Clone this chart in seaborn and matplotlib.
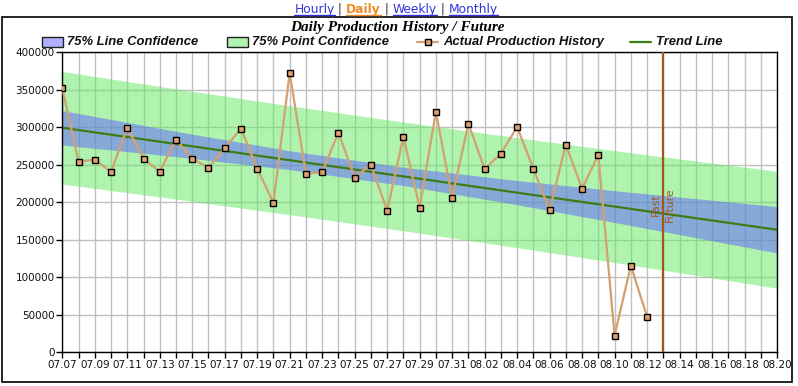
import numpy as np
import pandas as pd
import matplotlib
matplotlib.use("Agg")
import matplotlib.pyplot as plt
import seaborn as sns
from matplotlib.patches import Rectangle
from matplotlib.lines import Line2D
from matplotlib.ticker import MultipleLocator, FixedLocator, FuncFormatter

# ---------------- data ----------------
axis_days = pd.date_range("2023-07-07", "2023-08-20").strftime("%m.%d").tolist()

prod_dates = ["07.07", "07.08", "07.09", "07.10", "07.11", "07.12", "07.13", "07.14",
              "07.15", "07.16", "07.17", "07.18", "07.19", "07.20", "07.21", "07.22",
              "07.23", "07.24", "07.25", "07.26", "07.27", "07.28", "07.29", "07.30",
              "07.31", "08.01", "08.02", "08.03", "08.04", "08.05", "08.06", "08.07",
              "08.08", "08.09", "08.10", "08.11", "08.12"]
production = [352700, 254200, 256800, 240800, 299500, 258200, 240800, 283500,
              258200, 246200, 272400, 298200, 244800, 199500, 372400, 237800,
              240500, 292900, 232900, 250200, 188900, 287500, 192900, 320800,
              206200, 304900, 244500, 264800, 300500, 244500, 189300, 276800,
              218200, 263500, 22200, 115500, 47500]

trend_dates = ["07.07", "08.20"]
trend_values = [299400, 163400]

band_dates = ["07.07", "07.14", "07.21", "07.28", "08.04", "08.11", "08.20"]
line_conf_upper = [322400, 294600, 268700, 246700, 229000, 213300, 194300]
line_conf_lower = [276400, 260900, 243600, 222300, 196800, 169100, 132500]
point_conf_upper = [374500, 351200, 328700, 307000, 286100, 266100, 241300]
point_conf_lower = [224300, 204300, 183500, 162000, 139600, 116400, 85500]

divider_date = "08.13"
y_ticks = [0, 50000, 100000, 150000, 200000, 250000, 300000, 350000, 400000]

title = "Daily Production History / Future"
legend_labels = ["75% Line Confidence", "75% Point Confidence",
                 "Actual Production History", "Trend Line"]
nav_links = ["Hourly", "Daily", "Weekly", "Monthly"]

# ---------------- style ----------------
W, H = 798, 386
sns.set_theme(style="white")
plt.rcParams["font.family"] = ["DejaVu Sans"]

GREEN_FILL = "#61e961"
BLUE_FILL = "#6060ff"
TAN = "#d4a070"
MARK = "#dfa070"
TREND = "#3c7d14"
BROWN = "#a2561c"
GRID = "#c0c0c0"

pos = {d: i for i, d in enumerate(axis_days)}

fig = plt.figure(figsize=(W / 100, H / 100), dpi=100)
fig.patch.set_facecolor("white")
ax = fig.add_axes([62.3 / W, (H - 352.3) / H, (777 - 62.3) / W, (352.3 - 52.3) / H])
ax.set_facecolor("white")

bx = [pos[d] for d in band_dates]
ax.fill_between(bx, point_conf_lower, point_conf_upper, color=GREEN_FILL, alpha=0.5,
                linewidth=0, zorder=1)
ax.fill_between(bx, line_conf_lower, line_conf_upper, color=BLUE_FILL, alpha=0.5,
                linewidth=0, zorder=1.1)

tx = [pos[d] for d in trend_dates]
sns.lineplot(x=tx, y=trend_values, ax=ax, color=TREND, linewidth=1.6, zorder=2,
             legend=False)

df = pd.DataFrame({"day": [pos[d] for d in prod_dates], "production": production})
sns.lineplot(data=df, x="day", y="production", ax=ax, color=TAN, linewidth=1.6,
             marker="s", markersize=5, markerfacecolor=MARK, markeredgecolor="black",
             markeredgewidth=1.0, zorder=3, legend=False)

dx = pos[divider_date]
ax.axvline(dx, color=BROWN, linewidth=1.6, zorder=4)
ax.text(dx - 0.12, 197000, "Past", rotation=90, color=BROWN, fontsize=7.8,
        ha="right", va="center", zorder=5)
ax.text(dx + 0.12, 197000, "Future", rotation=90, color=BROWN, fontsize=7.8,
        ha="left", va="center", zorder=5)

ax.set_xlim(0, len(axis_days) - 1)
ax.set_ylim(0, 400000)
ax.xaxis.set_major_locator(MultipleLocator(2))
ax.xaxis.set_minor_locator(MultipleLocator(1))
ax.xaxis.set_major_formatter(FuncFormatter(
    lambda v, p: axis_days[int(round(v))] if 0 <= int(round(v)) < len(axis_days) else ""))
ax.yaxis.set_major_locator(FixedLocator(y_ticks))
ax.yaxis.set_major_formatter(FuncFormatter(lambda v, p: f"{int(v)}"))
ax.set_axisbelow(True)
ax.grid(True, which="both", axis="x", color=GRID, linewidth=1.0)
ax.grid(True, which="major", axis="y", color=GRID, linewidth=1.0)
ax.tick_params(axis="both", which="both", direction="out", length=4, width=1,
               color="black", labelsize=7.5, labelcolor="#111111", pad=1.5,
               bottom=True, left=True, top=False, right=False)
ax.set_xlabel("")
ax.set_ylabel("")
for s in ax.spines.values():
    s.set_visible(True)
    s.set_color("black")
    s.set_linewidth(1.0)

# outer frame
fig.patches.append(Rectangle((2 / W, (H - 382) / H), (792 - 2) / W, (382 - 17) / H,
                             transform=fig.transFigure, fill=False,
                             edgecolor="black", linewidth=1.2))

# title
fig.text(397 / W, (H - 27) / H, title, ha="center", va="center",
         fontsize=11, fontweight="bold", fontstyle="italic",
         family=["Liberation Serif", "DejaVu Serif"], color="black")

# legend (manual)
ly = (H - 42) / H
lfont = dict(fontsize=9.4, fontweight="bold", fontstyle="italic",
             family=["Liberation Sans", "DejaVu Sans"], color="#111111",
             va="center", ha="left")
fig.patches.append(Rectangle((42 / W, (H - 47) / H), 21 / W, 10 / H,
                             transform=fig.transFigure, facecolor="#b0b0ff",
                             edgecolor="#222222", linewidth=1.0))
fig.text(67 / W, ly, legend_labels[0], **lfont)
fig.patches.append(Rectangle((227 / W, (H - 47) / H), 21 / W, 10 / H,
                             transform=fig.transFigure, facecolor="#b0f4b0",
                             edgecolor="#222222", linewidth=1.0))
fig.text(252 / W, ly, legend_labels[1], **lfont)
fig.lines.append(Line2D([417 / W, 438 / W], [ly, ly], transform=fig.transFigure,
                        color=TAN, linewidth=1.6))
fig.lines.append(Line2D([427.5 / W], [ly], transform=fig.transFigure, marker="s",
                        markersize=5, markerfacecolor=MARK, markeredgecolor="black",
                        markeredgewidth=1.0, linestyle="none"))
fig.text(443 / W, ly, legend_labels[2], **lfont)
fig.lines.append(Line2D([630 / W, 651 / W], [ly, ly], transform=fig.transFigure,
                        color=TREND, linewidth=1.6))
fig.text(656 / W, ly, legend_labels[3], **lfont)

# navigation links
fig.canvas.draw()
renderer = fig.canvas.get_renderer()
nav_y = (H - 9) / H
pieces = []
for i, name in enumerate(nav_links):
    if i > 0:
        pieces.append((" | ", "#333333", "normal", False))
    if name == "Daily":
        pieces.append((name, "#f08c28", "bold", True))
    else:
        pieces.append((name, "#3333dd", "normal", True))
texts = []
for s, c, w, u in pieces:
    t = fig.text(0, nav_y, s, color=c, fontweight=w, fontsize=8.8, ha="left",
                 va="center", family=["DejaVu Sans"])
    texts.append((t, u, c))
widths = [t.get_window_extent(renderer).width for t, _, _ in texts]
total = sum(widths)
x = 396 - total / 2
for (t, u, c), wd in zip(texts, widths):
    t.set_x(x / W)
    if u:
        fig.lines.append(Line2D([x / W, (x + wd) / W], [(H - 15) / H, (H - 15) / H],
                                transform=fig.transFigure, color=c, linewidth=1.0))
    x += wd

fig.savefig("out.png", dpi=100, facecolor="white")
